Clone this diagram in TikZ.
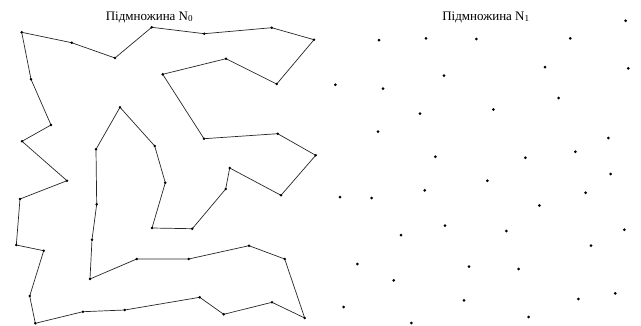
\documentclass[tikz,border=0pt]{standalone}
\usepackage{fontspec}
\setmainfont{Liberation Serif}
\begin{document}
\begin{tikzpicture}[x=1pt,y=-1pt,
  edge/.style={draw=black!85,line width=0.7pt,line join=round},
  dotpt/.style={fill=black},
  title/.style={font=\fontsize{13}{15}\selectfont,inner sep=0pt,anchor=base}]
\useasboundingbox (0,0) rectangle (641,325);
% polygon vertices of N0
\foreach [count=\i] \x/\y in {21.7/32.3,71.7/42.7,115/58,151.7/27.3,204.3/33.7,271.7/27.7,314/39.7,276.7/84,226/58.7,162.7/74.3,204/138.7,277.7/133.7,315.7/155.3,281/195.3,229.7/168,225.7/189,192.3/228.7,152/228,165.3/182.7,154.7/146,120/107.3,96/149.3,96.7/204.3,92/239.7,90/279,136.7/259,188.7/259,249/245.7,284.7/259,304.7/318,272/302.3,223.7/314.3,199.7/297.3,124.7/310,83/311.7,35.3/323.3,29.7/296,43.7/250.7,16.3/245,20/199,67/180.7,22/141.3,51/125,31/79.3}
  \coordinate (p\i) at (\x,\y);
\draw[edge] (p1) \foreach \i in {2,...,44} {-- (p\i)} -- cycle;
\foreach \i in {1,...,44} \fill[dotpt] (p\i) circle (1.4);
% points of N1
\foreach [count=\i] \x/\y in {625.7/20.7,379/40,426/38.3,476.3/39,570.3/38.3,545/67,628.3/68.3,444/75.7,335.3/84.7,383/88.7,558.7/98,420/113.7,493.3/109.5,378/131.7,608.3/138,575.3/151.7,435.3/156.7,525.3/157.7,610.7/174,487.3/180.7,424.7/190.3,585.7/192.7,340/197,371.7/198,539.3/205.5,624.3/229.7,445/225.7,401/235,506.3/231,591/245.7,357.3/264,469/266.7,518.7/269,393.7/280.3,615.3/293.3,578.3/299,464/300.3,343.7/307,528.7/317,411.3/323}
  \coordinate (q\i) at (\x,\y);
\foreach \i in {1,...,40} \fill[dotpt] (q\i) circle (1.5);
\node[title] (t0) at (149.5,20) {Підмножина N\textsubscript{0}};
\node[title] (t1) at (486,20) {Підмножина N\textsubscript{1}};
\end{tikzpicture}
\end{document}
